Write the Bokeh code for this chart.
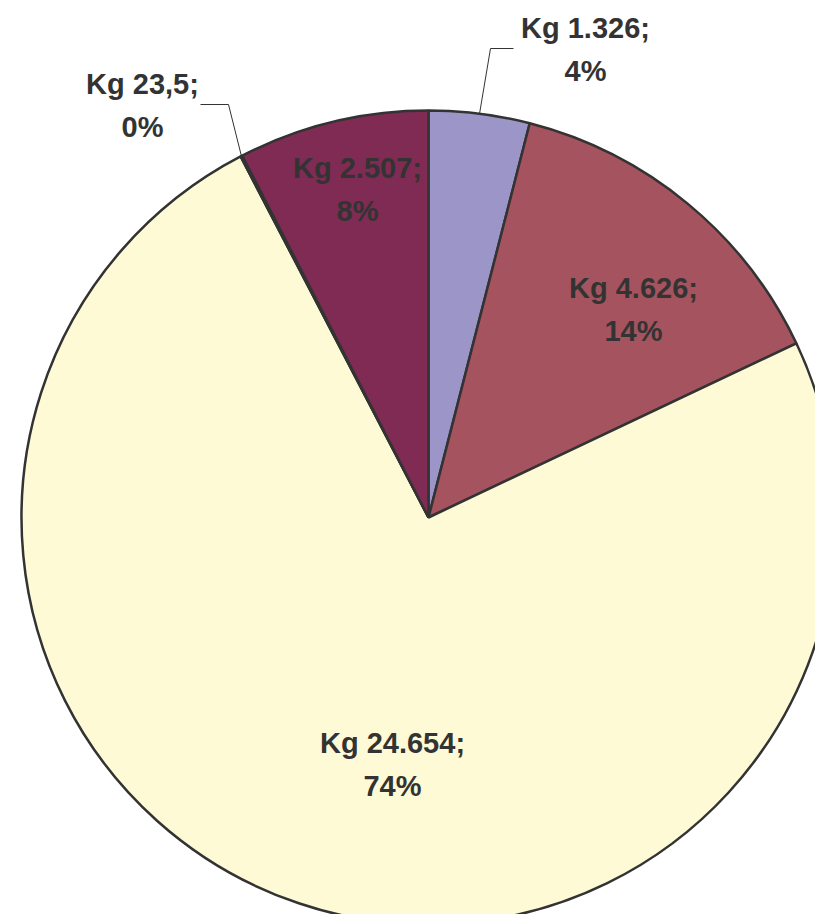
import math
from bokeh.plotting import figure
from bokeh.models import Range1d, ColumnDataSource
from bokeh.core.properties import value
from bokeh.embed import file_html
from bokeh.resources import INLINE

# ---- data (clockwise from 12 o'clock) ----
values = [1326, 4626, 24654, 23.5, 2507]
value_labels = ["1.326", "4.626", "24.654", "23,5", "2.507"]
colors = ["#9B96C7", "#A5535E", "#FFFAD6", "#C8E6F0", "#7F2B54"]

# ---- layout ----
CX, CY, R = 428, -517, 407
# label centers (x, y of first line) in page pixels
label_pos = [(585, 27), (633, 287), (392, 742), (142, 83), (357, 167)]
LINE_GAP = 43

total = sum(values)
fracs = [v / total for v in values]
starts, ends = [], []
cum = 0.0
for f in fracs:
    starts.append(math.pi / 2 - cum * 2 * math.pi)
    cum += f
    ends.append(math.pi / 2 - cum * 2 * math.pi)

src = ColumnDataSource(dict(start=starts, end=ends, color=colors))

p = figure(width=815, height=914, output_backend="svg", toolbar_location=None,
           x_range=Range1d(0, 815), y_range=Range1d(-914, 0),
           min_border=0, outline_line_color=None)
p.axis.visible = False
p.grid.visible = False
p.background_fill_color = "white"
p.border_fill_color = "white"

p.wedge(x=CX, y=CY, radius=R, radius_units="data", start_angle="start", end_angle="end",
        direction="clock", fill_color="color", line_color="#333333", line_width=2.5,
        source=src)

# leader lines for outside labels
mids = [(s + e) / 2 for s, e in zip(starts, ends)]
ax0 = CX + R * math.cos(mids[0]); ay0 = CY + R * math.sin(mids[0])
p.line([ax0, 490, 513], [ay0, -48, -48], line_color="#333333", line_width=1)
ax3 = CX + R * math.cos(mids[3]); ay3 = CY + R * math.sin(mids[3])
p.line([ax3, 228, 200], [ay3, -104, -104], line_color="#333333", line_width=1)

line1 = [f"Kg {l};" for l in value_labels]
line2 = [f"{round(f * 100)}%" for f in fracs]
tx = [lp[0] for lp in label_pos]
ty1 = [-lp[1] for lp in label_pos]
ty2 = [-(lp[1] + LINE_GAP) for lp in label_pos]

for ty, txt in ((ty1, line1), (ty2, line2)):
    p.text(x=tx, y=ty, text=txt, text_font=value("Liberation Sans"),
           text_font_style="bold", text_font_size="29px", text_color="#333333",
           text_align="center", text_baseline="middle")

open("out.html", "w").write(file_html(p, INLINE))
